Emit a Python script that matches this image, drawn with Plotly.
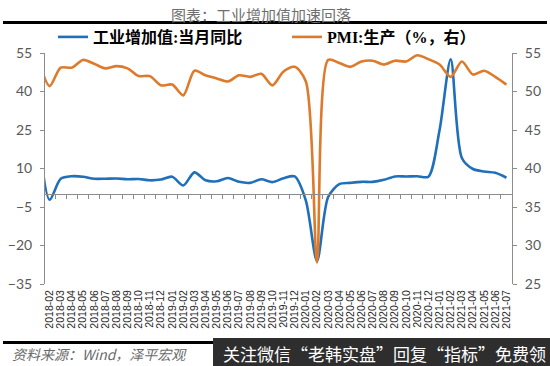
import plotly.graph_objects as go

# ---------------- data ----------------
months = [
    "2018-01", "2018-02", "2018-03", "2018-04", "2018-05", "2018-06", "2018-07", "2018-08",
    "2018-09", "2018-10", "2018-11", "2018-12", "2019-01", "2019-02", "2019-03", "2019-04",
    "2019-05", "2019-06", "2019-07", "2019-08", "2019-09", "2019-10", "2019-11", "2019-12",
    "2020-01", "2020-02", "2020-03", "2020-04", "2020-05", "2020-06", "2020-07", "2020-08",
    "2020-09", "2020-10", "2020-11", "2020-12", "2021-01", "2021-02", "2021-03", "2021-04",
    "2021-05", "2021-06", "2021-07",
]
ip_yoy = [
    25.0, -2.2, 6.0, 7.0, 6.8, 6.0, 6.0, 6.1, 5.8, 5.9, 5.4, 5.7,
    6.8, 3.4, 8.5, 5.4, 5.0, 6.3, 4.8, 4.4, 5.8, 4.7, 6.2, 6.9,
    -2.5, -26.0, -1.1, 3.9, 4.4, 4.8, 4.8, 5.6, 6.9, 6.9, 7.0, 6.8,
    25.0, 52.5, 14.1, 9.8, 8.8, 8.3, 6.4,
]
pmi_prod = [
    54.2, 50.7, 53.1, 53.1, 54.1, 53.6, 53.0, 53.3, 53.0, 52.0, 52.0, 50.8,
    50.9, 49.5, 52.7, 52.1, 51.7, 51.3, 52.1, 51.9, 52.3, 50.8, 52.6, 53.2,
    51.3, 27.8, 54.1, 53.7, 53.2, 53.9, 54.0, 53.5, 54.0, 53.9, 54.7, 54.2,
    53.5, 51.9, 53.9, 52.2, 52.7, 51.9, 50.9,
]
left_ticks = [-35, -20, -5, 10, 25, 40, 55]
right_ticks = [25, 30, 35, 40, 45, 50, 55]
series_names = ["工业增加值:当月同比", "PMI:生产（%，右）"]

# first listed month (2018-01) sits just left of the plotted window
xpos = list(range(-1, len(months) - 1))
shown = months[1:]
shown_pos = list(range(len(shown)))
bounds = [i - 0.5 for i in range(len(shown) + 1)]

BLUE = "#1F6FBA"
ORANGE = "#DD7A2B"
GRAY = "#595959"
AXIS = "#8C8C8C"

PL, PR, PT, PB = 44, 512, 53, 284
PW, PH = PR - PL, PB - PT


def px(x):
    return (x - PL) / PW


def py(y):
    return (PB - y) / PH


fig = go.Figure()
fig.add_trace(go.Scatter(
    x=xpos, y=ip_yoy, name=series_names[0], mode="lines",
    line=dict(color=BLUE, width=2.6, shape="spline", smoothing=0.8),
    xaxis="x", yaxis="y",
))
fig.add_trace(go.Scatter(
    x=xpos, y=pmi_prod, name=series_names[1], mode="lines",
    line=dict(color=ORANGE, width=2.6, shape="spline", smoothing=0.8),
    xaxis="x", yaxis="y2",
))
# empty carrier for the bottom label axis
fig.add_trace(go.Scatter(
    x=shown_pos, y=[None] * len(shown_pos), mode="lines", showlegend=False,
    hoverinfo="skip", xaxis="x2", yaxis="y",
))

xr = [-0.5, len(shown) - 0.5]
zero_frac = (0 - left_ticks[0]) / (left_ticks[-1] - left_ticks[0])

fig.update_layout(
    width=550, height=366,
    margin=dict(l=PL, r=550 - PR, t=PT, b=366 - PB, autoexpand=False),
    paper_bgcolor="white", plot_bgcolor="white",
    showlegend=True,
    legend=dict(
        orientation="h", x=px(53), xanchor="left", y=py(37), yanchor="middle",
        font=dict(family="Liberation Serif, Noto Sans CJK SC", size=16, color="#000000", weight="bold"),
        itemwidth=30, entrywidth=189, entrywidthmode="pixels",
        bgcolor="rgba(0,0,0,0)", borderwidth=0, tracegroupgap=0,
    ),
    xaxis=dict(
        range=xr, anchor="free", position=zero_frac,
        tickmode="array", tickvals=bounds, showticklabels=False,
        ticks="outside", ticklen=4, tickcolor=AXIS, tickwidth=1,
        showline=True, linecolor=AXIS, linewidth=1, showgrid=False, zeroline=False,
        automargin=False,
    ),
    xaxis2=dict(
        range=xr, overlaying="x", anchor="y", side="bottom",
        tickmode="array", tickvals=shown_pos, ticktext=shown,
        tickangle=-90, ticks="", showline=False, showgrid=False, zeroline=False,
        tickfont=dict(family="Liberation Sans, Arial", size=10.5, color="#262626"),
        ticklabelstandoff=3, automargin=False,
    ),
    yaxis=dict(
        range=[left_ticks[0], left_ticks[-1]], tickmode="array", tickvals=left_ticks,
        ticks="outside", ticklen=4, tickcolor=AXIS, showline=True, linecolor=AXIS,
        linewidth=1, showgrid=False, zeroline=False, anchor="free", position=0,
        tickfont=dict(family="Lato, Open Sans", size=14, color=GRAY),
        ticklabelstandoff=5, automargin=False,
    ),
    yaxis2=dict(
        range=[right_ticks[0], right_ticks[-1]], tickmode="array", tickvals=right_ticks,
        overlaying="y", side="right", anchor="free", position=1,
        ticks="outside", ticklen=4, tickcolor=AXIS, showline=True, linecolor=AXIS,
        linewidth=1, showgrid=False, zeroline=False,
        tickfont=dict(family="Lato, Open Sans", size=14, color=GRAY),
        ticklabelstandoff=5, automargin=False,
    ),
    shapes=[
        dict(type="line", xref="paper", yref="paper", x0=px(3), x1=px(547),
             y0=py(22.5), y1=py(22.5), line=dict(color="#000000", width=3)),
        dict(type="line", xref="paper", yref="paper", x0=px(3), x1=px(214),
             y0=py(342.5), y1=py(342.5), line=dict(color="#000000", width=3)),
        dict(type="rect", xref="paper", yref="paper", x0=px(213), x1=px(551),
             y0=py(338), y1=py(367), fillcolor="#2E2E2E", line=dict(width=0)),
    ],
    annotations=[
        dict(text="图表：工业增加值加速回落", xref="paper", yref="paper",
             x=px(261), y=py(14), xanchor="center", yanchor="middle", showarrow=False,
             font=dict(family="Noto Sans CJK SC", size=15, color="#6E6E6E")),
        dict(text="<i>资料来源：Wind，泽平宏观</i>", xref="paper", yref="paper",
             x=px(10), y=py(354), xanchor="left", yanchor="middle", showarrow=False,
             font=dict(family="Noto Sans CJK SC", size=14, color="#6A6A6A")),
        dict(text="关注微信“老韩实盘”回复“指标”免费领", xref="paper", yref="paper",
             x=px(384), y=py(353), xanchor="center", yanchor="middle", showarrow=False,
             font=dict(family="Noto Sans CJK SC", size=17, color="#FFFFFF")),
    ],
)

fig.write_html(
    "out.html",
    config={"displayModeBar": False},
    post_script="document.body.style.margin='0';document.body.style.overflow='hidden';",
)
